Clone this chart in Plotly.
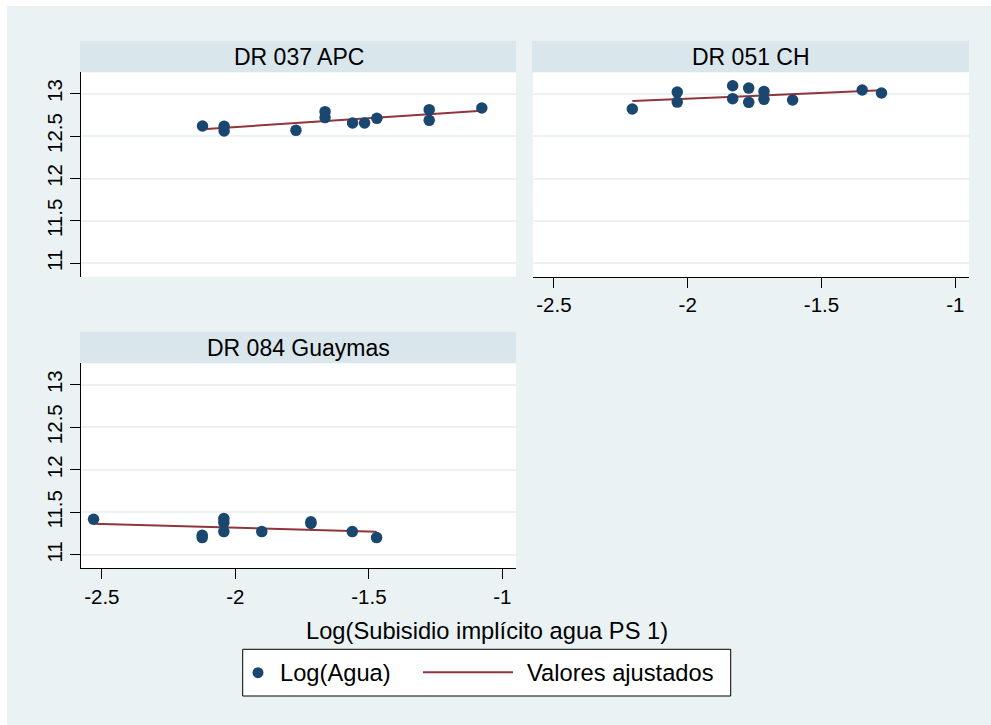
import numpy as np
import plotly.graph_objects as go

# Panel titles
panels = ["DR 037 APC", "DR 051 CH", "DR 084 Guaymas"]

# Log(Subsidio implícito agua PS 1) by district
x_apc = [-2.123, -2.042, -2.042, -1.773, -1.664, -1.664, -1.561, -1.516, -1.470, -1.274, -1.274, -1.077]
y_apc = [12.619, 12.615, 12.560, 12.568, 12.788, 12.718, 12.654, 12.654, 12.709, 12.812, 12.686, 12.831]

x_ch = [-2.207, -2.039, -2.039, -1.832, -1.832, -1.772, -1.772, -1.715, -1.715, -1.608, -1.348, -1.276]
y_ch = [12.819, 13.019, 12.901, 13.094, 12.941, 13.066, 12.898, 13.027, 12.933, 12.925, 13.043, 13.008]

x_gy = [-2.531, -2.124, -2.124, -2.043, -2.043, -2.043, -1.901, -1.717, -1.717, -1.562, -1.471]
y_gy = [11.420, 11.232, 11.204, 11.427, 11.380, 11.274, 11.274, 11.390, 11.370, 11.274, 11.204]

x_ticks = [-2.5, -2, -1.5, -1]
x_ticklabels = ["-2.5", "-2", "-1.5", "-1"]
y_ticks = [11, 11.5, 12, 12.5, 13]
y_ticklabels = ["11", "11.5", "12", "12.5", "13"]

x_title = "Log(Subisidio implícito agua PS 1)"
legend_labels = ["Log(Agua)", "Valores ajustados"]

# Styling
W, H = 991, 725
BG = "#EAF2F3"
HEADER = "#D9E6EB"
GRID = "#EAF2F3"
NAVY = "#1A476F"
MAROON = "#90353B"
FONT = "Liberation Sans, Arial, sans-serif"

def px(x):
    return x / W

def py(y):
    return 1 - y / H

# pixel boxes of each plot region: (left, right, top, bottom)
boxes = [(81, 516, 72.3, 276.7), (533, 969, 72.3, 276.7), (81, 516, 363.3, 568.3)]
XR = [-2.578, -0.949]
YR = [10.843, 13.252]

fig = go.Figure()

series = [(x_apc, y_apc), (x_ch, y_ch), (x_gy, y_gy)]
for i, (xs, ys) in enumerate(series):
    ax = "" if i == 0 else str(i + 1)
    xs_a = np.array(xs)
    ys_a = np.array(ys)
    slope, icpt = np.polyfit(xs_a, ys_a, 1)
    xf = np.array([xs_a.min(), xs_a.max()])
    yf = icpt + slope * xf
    fig.add_trace(go.Scatter(x=xf, y=yf, mode="lines",
                             line=dict(color=MAROON, width=2),
                             xaxis="x" + ax, yaxis="y" + ax,
                             showlegend=False, hoverinfo="skip"))
    fig.add_trace(go.Scatter(x=xs, y=ys, mode="markers",
                             marker=dict(color=NAVY, size=11.5, line=dict(width=0)),
                             xaxis="x" + ax, yaxis="y" + ax,
                             showlegend=False))

shapes = []
annotations = []

# background with thin white edge on top and left
shapes.append(dict(type="rect", xref="paper", yref="paper",
                   x0=px(7), x1=1, y0=0, y1=py(6),
                   fillcolor=BG, line=dict(width=0), layer="below"))

layout_axes = {}
for i, (l, r, t, b) in enumerate(boxes):
    ax = "" if i == 0 else str(i + 1)
    show_x = i in (1, 2)
    show_y = i in (0, 2)
    layout_axes["xaxis" + ax] = dict(
        domain=[px(l), px(r)], range=XR, anchor="y" + ax,
        showgrid=False, zeroline=False,
        showline=show_x, linecolor="#000000", linewidth=1,
        ticks="outside" if show_x else "", ticklen=10, tickcolor="#000000", tickwidth=1,
        showticklabels=show_x, tickvals=x_ticks, ticktext=x_ticklabels,
        tickfont=dict(family=FONT, size=20.5, color="#000000"),
    )
    layout_axes["yaxis" + ax] = dict(
        domain=[py(b), py(t)], range=YR, anchor="x" + ax,
        showgrid=True, gridcolor=GRID, gridwidth=1.5, zeroline=False,
        showline=show_y, linecolor="#000000", linewidth=1,
        ticks="outside" if show_y else "", ticklen=10, tickcolor="#000000", tickwidth=1,
        showticklabels=show_y, tickvals=y_ticks, ticktext=y_ticklabels,
        tickangle=-90,
        tickfont=dict(family=FONT, size=20.5, color="#000000"),
    )
    # white plot region
    shapes.append(dict(type="rect", xref="paper", yref="paper",
                       x0=px(l), x1=px(r), y0=py(b), y1=py(t),
                       fillcolor="#FFFFFF", line=dict(width=0), layer="below"))
    # header strip
    shapes.append(dict(type="rect", xref="paper", yref="paper",
                       x0=px(l - 1), x1=px(r), y0=py(t), y1=py(t - 31.6),
                       fillcolor=HEADER, line=dict(width=0), layer="below"))
    annotations.append(dict(text=panels[i], xref="paper", yref="paper",
                            x=px((l + r) / 2), y=py(t - 15.5),
                            xanchor="center", yanchor="middle", showarrow=False,
                            font=dict(family=FONT, size=23, color="#000000")))

# x-axis title
annotations.append(dict(text=x_title, xref="paper", yref="paper",
                        x=px(487), y=py(630.5), xanchor="center", yanchor="middle",
                        showarrow=False,
                        font=dict(family=FONT, size=23.7, color="#000000")))

# legend box
shapes.append(dict(type="rect", xref="paper", yref="paper",
                   x0=px(242.7), x1=px(730.7), y0=py(696), y1=py(649.3),
                   fillcolor="#FFFFFF", line=dict(color="#000000", width=1)))
shapes.append(dict(type="circle", xref="paper", yref="paper",
                   x0=px(258 - 5.5), x1=px(258 + 5.5), y0=py(672.7 + 5.5), y1=py(672.7 - 5.5),
                   fillcolor=NAVY, line=dict(width=0)))
shapes.append(dict(type="line", xref="paper", yref="paper",
                   x0=px(423), x1=px(513), y0=py(672.3), y1=py(672.3),
                   line=dict(color=MAROON, width=2)))
annotations.append(dict(text=legend_labels[0], xref="paper", yref="paper",
                        x=px(278), y=py(672.5), xanchor="left", yanchor="middle",
                        showarrow=False,
                        font=dict(family=FONT, size=23.7, color="#000000")))
annotations.append(dict(text=legend_labels[1], xref="paper", yref="paper",
                        x=px(525), y=py(672.5), xanchor="left", yanchor="middle",
                        showarrow=False,
                        font=dict(family=FONT, size=23.7, color="#000000")))

fig.update_layout(
    width=W, height=H,
    margin=dict(l=0, r=0, t=0, b=0),
    paper_bgcolor="#FFFFFF", plot_bgcolor="rgba(0,0,0,0)",
    showlegend=False,
    shapes=shapes, annotations=annotations,
    **layout_axes,
)

fig.write_html("out.html")
